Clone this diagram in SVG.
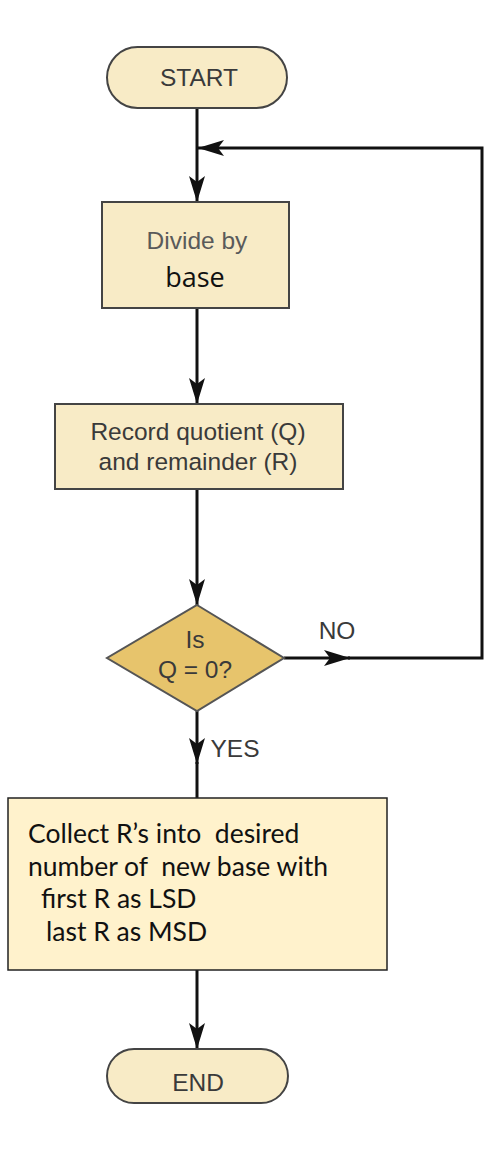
<svg xmlns="http://www.w3.org/2000/svg" width="497" height="1156" viewBox="0 0 497 1156">
<style>
.box{fill:#f8ebc6;stroke:#444;stroke-width:2}
.dia{fill:#e7c46c;stroke:#555;stroke-width:2}
.t{font-family:"Liberation Sans",Arial,sans-serif;font-size:24.5px;fill:#3a3a3a;text-anchor:middle}
.c{font-family:Lato,"Noto Sans",sans-serif;font-size:26.5px;fill:#111}
.ln{fill:none;stroke:#111;stroke-width:3}
</style>
<defs>
<marker id="ah" markerUnits="userSpaceOnUse" markerWidth="30" markerHeight="16" refX="26" refY="8" orient="auto">
<path d="M0,0 L26,8 L0,16 L6,8 z" fill="#111"/>
</marker>
</defs>
<rect width="497" height="1156" fill="#fff"/>
<g id="connectors">
<line class="ln" x1="197" y1="108" x2="197" y2="202" marker-end="url(#ah)"/>
<line class="ln" x1="197" y1="308" x2="197" y2="404" marker-end="url(#ah)"/>
<line class="ln" x1="197" y1="489" x2="197" y2="605" marker-end="url(#ah)"/>
<line class="ln" x1="284" y1="658" x2="350" y2="658" marker-end="url(#ah)"/>
<polyline class="ln" points="348,658 482,658 482,148 198,148" marker-end="url(#ah)"/>
<line class="ln" x1="197" y1="711" x2="197" y2="764" marker-end="url(#ah)"/>
<line class="ln" x1="197" y1="762" x2="197" y2="798"/>
<line class="ln" x1="197" y1="970" x2="197" y2="1049" marker-end="url(#ah)"/>
<text class="t" x="337" y="639">NO</text>
<text class="t" x="235" y="757">YES</text>
</g>
<g id="start">
<rect class="box" x="107" y="47" width="180" height="61" rx="30.5"/>
<text class="t" x="199" y="86">START</text>
</g>
<g id="divide">
<rect class="box" x="102" y="202" width="187" height="106"/>
<text class="t" x="197" y="249" style="fill:#5a5a5a">Divide by</text>
<text x="195" y="287" style="font-family:'Open Sans','DejaVu Sans',sans-serif;font-size:27px;fill:#111;text-anchor:middle">base</text>
</g>
<g id="record">
<rect class="box" x="55" y="404" width="288" height="85"/>
<text class="t" x="198" y="440">Record quotient (Q)</text>
<text class="t" x="198" y="470">and remainder (R)</text>
</g>
<g id="decision">
<polygon class="dia" points="197,605 284,658 197,711 107,658"/>
<text class="t" x="195" y="648">Is</text>
<text class="t" x="195" y="678">Q = 0?</text>
</g>
<g id="collect">
<rect x="8" y="798" width="379" height="172" fill="#fff2cc" stroke="#222" stroke-width="1.5"/>
<text class="c" x="28" y="843" xml:space="preserve">Collect R’s into  desired</text>
<text class="c" x="28" y="876" xml:space="preserve">number of  new base with</text>
<text class="c" x="41" y="908">first R as LSD</text>
<text class="c" x="46" y="941">last R as MSD</text>
</g>
<g id="end">
<rect class="box" x="107" y="1049" width="181" height="54" rx="27"/>
<text class="t" x="198" y="1091">END</text>
</g>
</svg>
